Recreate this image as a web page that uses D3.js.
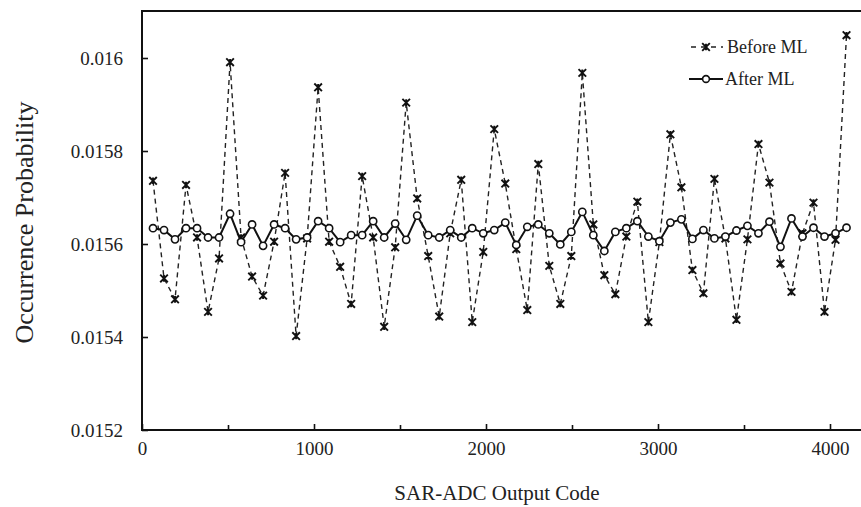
<!DOCTYPE html>
<html>
<head>
<meta charset="utf-8">
<script src="https://cdn.jsdelivr.net/npm/d3@7/dist/d3.min.js"></script>
<style>
  html, body { margin: 0; padding: 0; background: #fff; }
  svg { display: block; font-family: "Liberation Serif", "Times New Roman", serif; }
</style>
</head>
<body>
<svg id="chart" width="861" height="507"></svg>
<script>
const codes = [64,128,192,256,320,384,448,512,576,640,704,768,832,896,960,1024,
  1088,1152,1216,1280,1344,1408,1472,1536,1600,1664,1728,1792,1856,1920,1984,2048,
  2112,2176,2240,2304,2368,2432,2496,2560,2624,2688,2752,2816,2880,2944,3008,3072,
  3136,3200,3264,3328,3392,3456,3520,3584,3648,3712,3776,3840,3904,3968,4032,4096];

const beforeML = [0.015736,0.015526,0.015481,0.015727,0.015614,0.015454,0.015569,0.015991,
  0.015614,0.015530,0.015489,0.015605,0.015753,0.015402,0.015612,0.015937,
  0.015605,0.015551,0.015471,0.015746,0.015614,0.015422,0.015593,0.015904,
  0.015698,0.015574,0.015444,0.015623,0.015738,0.015432,0.015583,0.015847,
  0.015730,0.015589,0.015458,0.015772,0.015553,0.015471,0.015574,0.015968,
  0.015642,0.015533,0.015492,0.015616,0.015691,0.015432,0.015604,0.015836,
  0.015722,0.015544,0.015494,0.015740,0.015612,0.015437,0.015610,0.015815,
  0.015732,0.015558,0.015497,0.015623,0.015689,0.015454,0.015609,0.016049];

const afterML = [0.015634,0.015630,0.015610,0.015634,0.015634,0.015614,0.015614,0.015665,
  0.015604,0.015642,0.015596,0.015642,0.015634,0.015610,0.015614,0.015649,
  0.015634,0.015604,0.015619,0.015619,0.015649,0.015614,0.015644,0.015609,
  0.015661,0.015619,0.015614,0.015630,0.015614,0.015634,0.015623,0.015630,
  0.015646,0.015598,0.015637,0.015642,0.015623,0.015599,0.015626,0.015669,
  0.015619,0.015585,0.015626,0.015634,0.015649,0.015616,0.015606,0.015646,
  0.015653,0.015611,0.015630,0.015612,0.015616,0.015629,0.015639,0.015623,
  0.015648,0.015594,0.015655,0.015616,0.015635,0.015616,0.015623,0.015635];

const xTicks = [0, 1000, 2000, 3000, 4000];
const xMinorTicks = [500, 1500, 2500, 3500];
const yTicks = [0.0152, 0.0154, 0.0156, 0.0158, 0.016];
const yTickLabels = ["0.0152", "0.0154", "0.0156", "0.0158", "0.016"];
const seriesNames = ["Before ML", "After ML"];
const xTitle = "SAR-ADC Output Code";
const yTitle = "Occurrence Probability";

const svg = d3.select("#chart");
const L = 142, T = 11, B = 430;
const x = d3.scaleLinear().domain([0, 4200]).range([L, L + 4200 * 0.172]);
const y = d3.scaleLinear().domain([0.0152, 0.0161]).range([B, B - 4.5 * 93]);
const R = x(4200);

const data = codes.map((c, i) => ({ c, b: beforeML[i], a: afterML[i] }));

// Frame
svg.append("rect").attr("x", L).attr("y", T).attr("width", R - L).attr("height", B - T)
  .attr("fill", "none").attr("stroke", "#111").attr("stroke-width", 2);

// X axis ticks (inward)
const xAxis = d3.axisBottom(x).tickValues(xTicks).tickSizeInner(-6).tickSizeOuter(0).tickPadding(12)
  .tickFormat(d3.format("d"));
const gx = svg.append("g").attr("transform", `translate(0,${B})`).call(xAxis);
gx.select(".domain").remove();
gx.selectAll(".tick line").attr("stroke", "#111").attr("stroke-width", 1.6);
gx.selectAll(".tick text").attr("font-size", 19).attr("fill", "#222")
  .attr("font-family", "Liberation Serif, serif");

const xMinor = d3.axisBottom(x).tickValues(xMinorTicks).tickSizeInner(-5).tickSizeOuter(0).tickFormat("");
const gxm = svg.append("g").attr("transform", `translate(0,${B})`).call(xMinor);
gxm.select(".domain").remove();
gxm.selectAll(".tick line").attr("stroke", "#111").attr("stroke-width", 1.6);

// Y axis
const yAxis = d3.axisLeft(y).tickValues(yTicks).tickSizeInner(-6).tickSizeOuter(0).tickPadding(19)
  .tickFormat((d, i) => yTickLabels[i]);
const gy = svg.append("g").attr("transform", `translate(${L},0)`).call(yAxis);
gy.select(".domain").remove();
gy.selectAll(".tick line").attr("stroke", "#111").attr("stroke-width", 1.6);
gy.selectAll(".tick text").attr("font-size", 19).attr("fill", "#222")
  .attr("font-family", "Liberation Serif, serif");

// Titles
svg.append("text").attr("x", 497).attr("y", 500).attr("text-anchor", "middle")
  .attr("font-size", 21).attr("fill", "#222").text(xTitle);
svg.append("text").attr("transform", `translate(33,${(T + B) / 2 + 2}) rotate(-90)`)
  .attr("text-anchor", "middle").attr("font-size", 26).attr("fill", "#222").text(yTitle);

// Lines
const lineB = d3.line().x(d => x(d.c)).y(d => y(d.b));
const lineA = d3.line().x(d => x(d.c)).y(d => y(d.a));

svg.append("path").datum(data).attr("d", lineB).attr("fill", "none")
  .attr("stroke", "#222").attr("stroke-width", 1.4).attr("stroke-dasharray", "5,4");

function starMarker(g, cx, cy) {
  const s = 3.8;
  g.append("path")
    .attr("d", `M${cx - s},${cy - s}L${cx + s},${cy + s}M${cx - s},${cy + s}L${cx + s},${cy - s}M${cx},${cy - s + 0.5}L${cx},${cy + s - 0.5}`)
    .attr("stroke", "#111").attr("stroke-width", 1.9).attr("fill", "none");
}
const gB = svg.append("g");
data.forEach(d => starMarker(gB, x(d.c), y(d.b)));

svg.append("path").datum(data).attr("d", lineA).attr("fill", "none")
  .attr("stroke", "#111").attr("stroke-width", 2);
svg.append("g").selectAll("circle").data(data).join("circle")
  .attr("cx", d => x(d.c)).attr("cy", d => y(d.a)).attr("r", 3.6)
  .attr("fill", "#fff").attr("stroke", "#111").attr("stroke-width", 1.6);

// Legend
const lg = svg.append("g");
lg.append("line").attr("x1", 689).attr("x2", 723).attr("y1", 47).attr("y2", 47)
  .attr("stroke", "#222").attr("stroke-width", 1.4).attr("stroke-dasharray", "5,5").attr("stroke-dashoffset", -2);
starMarker(lg, 706, 47);
lg.append("text").attr("x", 727).attr("y", 53).attr("font-size", 18).attr("fill", "#222").text(seriesNames[0]);
lg.append("line").attr("x1", 689).attr("x2", 723).attr("y1", 79).attr("y2", 79)
  .attr("stroke", "#111").attr("stroke-width", 2);
lg.append("circle").attr("cx", 706).attr("cy", 79).attr("r", 3.4)
  .attr("fill", "#fff").attr("stroke", "#111").attr("stroke-width", 1.6);
lg.append("text").attr("x", 725).attr("y", 85).attr("font-size", 18).attr("fill", "#222").text(seriesNames[1]);
</script>
</body>
</html>
